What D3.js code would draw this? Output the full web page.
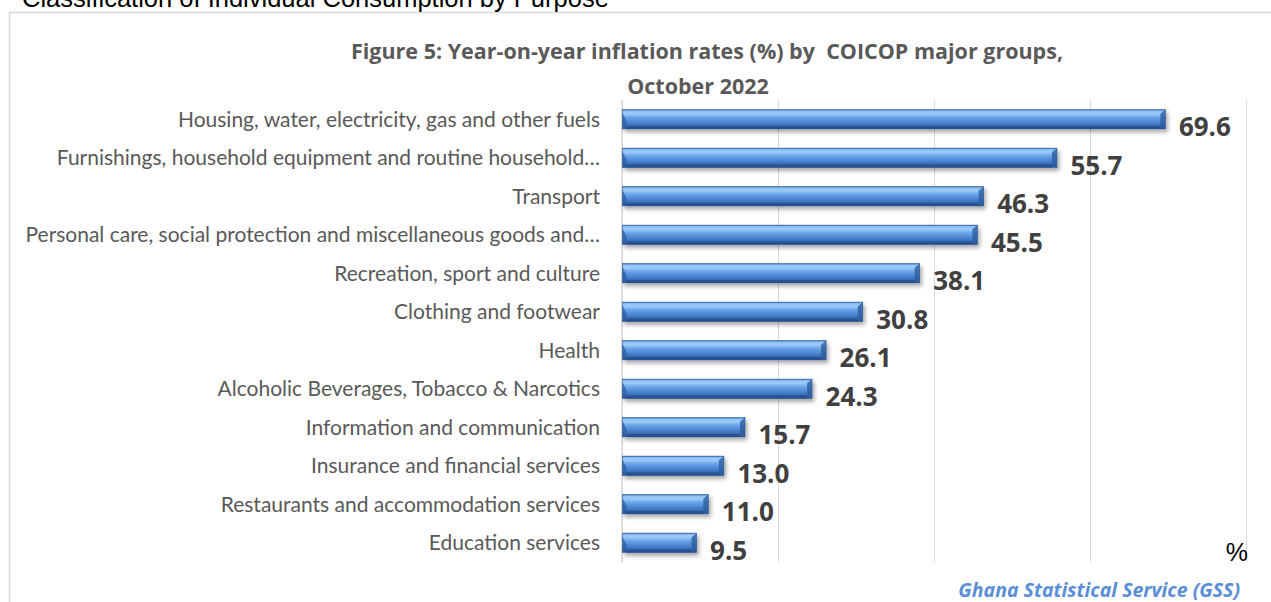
<!DOCTYPE html>
<html><head><meta charset="utf-8">
<script src="https://cdn.jsdelivr.net/npm/d3@7"></script>
<style>body{margin:0;background:#fff;overflow:hidden}svg{display:block}</style>
</head><body>
<svg id="c" width="1271" height="602"></svg>
<script>
const categories = [
  "Housing, water, electricity, gas and other fuels",
  "Furnishings, household equipment and routine household\u2026",
  "Transport",
  "Personal care, social protection and miscellaneous goods and\u2026",
  "Recreation, sport and culture",
  "Clothing and footwear",
  "Health",
  "Alcoholic Beverages, Tobacco & Narcotics",
  "Information and communication",
  "Insurance and financial services",
  "Restaurants and accommodation services",
  "Education services"
];
const values = [69.6, 55.7, 46.3, 45.5, 38.1, 30.8, 26.1, 24.3, 15.7, 13.0, 11.0, 9.5];
const xTicks = [0, 20, 40, 60, 80];
const titleLines = ["Figure 5: Year-on-year inflation rates (%) by  COICOP major groups,", "October 2022"];
const headerText = "Classification of Individual Consumption by Purpose";
const sourceText = "Ghana Statistical Service (GSS)";
const unitText = "%";

const svg = d3.select("#c");
const defs = svg.append("defs");
const g1 = defs.append("linearGradient").attr("id","barg").attr("x1",0).attr("y1",0).attr("x2",0).attr("y2",1);
[[0,"#3d74bd"],[0.08,"#8fc3f7"],[0.22,"#9ccbf8"],[0.4,"#6aa4e8"],[0.65,"#4b85d2"],[0.88,"#3566ae"],[1,"#234c88"]]
  .forEach(([o,c])=>g1.append("stop").attr("offset",o).attr("stop-color",c));
const f = defs.append("filter").attr("id","sh").attr("x","-5%").attr("y","-30%").attr("width","115%").attr("height","190%");
f.append("feDropShadow").attr("dx",2).attr("dy",3).attr("stdDeviation",2).attr("flood-color","#000").attr("flood-opacity",0.35);

// frame
svg.append("path").attr("d","M9.5,602 V12.5 H1271").attr("fill","none").attr("stroke","#d9d9d9").attr("stroke-width",1.5);

// header text (cut off at top, as in the source page)
svg.append("text").attr("x",22).attr("y",7).attr("font-family","Liberation Sans, Arial, sans-serif")
  .attr("font-size",25.5).attr("fill","#000").text(headerText);

// title
svg.append("g").selectAll("text").data(titleLines).join("text")
  .attr("x",(d,i)=> i===0 ? 707 : 698).attr("y",(d,i)=>59+i*35).attr("text-anchor","middle")
  .style("white-space","pre")
  .attr("font-family","Open Sans, sans-serif").attr("font-weight","bold").attr("font-size",21.5)
  .attr("fill","#595959").text(d=>d);

const x = d3.scaleLinear().domain([0,80]).range([622,1246]);
const y = d3.scaleBand().domain(categories).range([100,562]).paddingInner(0.5).paddingOuter(0.25);

// gridlines
svg.append("g").selectAll("line").data(xTicks).join("line")
  .attr("x1",d=>x(d)+0.5).attr("x2",d=>x(d)+0.5).attr("y1",100).attr("y2",562)
  .attr("stroke","#d9d9d9").attr("stroke-width",1);
svg.append("line").attr("x1",x(0)).attr("x2",x(0)).attr("y1",100).attr("y2",562).attr("stroke","#d9d9d9").attr("stroke-width",1.5);

// category labels
svg.append("g").selectAll("text").data(categories).join("text")
  .attr("x",600).attr("y",d=>y(d)+y.bandwidth()/2).attr("dy","0.35em").attr("text-anchor","end")
  .attr("font-family","Lato, sans-serif").attr("font-size",21).attr("fill","#595959").text(d=>d);

// bars
const bars = svg.append("g").selectAll("g").data(values).join("g").attr("filter","url(#sh)");
const bh = y.bandwidth();
bars.append("rect")
  .attr("x",x(0)+0.5).attr("y",(d,i)=>y(categories[i]))
  .attr("width",d=>x(d)-x(0)).attr("height",bh).attr("fill","url(#barg)")
  .attr("stroke","#2a5695").attr("stroke-width",0.6);
bars.append("path").attr("d",(d,i)=>{const t=y(categories[i]),x0=x(0)+0.5;return `M${x0},${t+3} L${x0+4},${t+bh/2+2} L${x0+4},${t+bh-3} L${x0},${t+bh} Z`;})
  .attr("fill","#2c5ea3").attr("opacity",0.75);
bars.append("path").attr("d",(d,i)=>{const t=y(categories[i]),xe=x(d)+0.5;return `M${xe},${t} L${xe-5},${t+4} L${xe-5},${t+bh-3} L${xe},${t+bh} Z`;})
  .attr("fill","#2d5c9e").attr("opacity",0.8);
bars.append("rect").attr("x",x(0)+4.5).attr("y",(d,i)=>y(categories[i])+bh-3).attr("width",d=>Math.max(0,x(d)-x(0)-9)).attr("height",3)
  .attr("fill","#244d8a").attr("opacity",0.7);

// value labels
svg.append("g").selectAll("text").data(values).join("text")
  .attr("x",d=>x(d)+14).attr("y",(d,i)=>y(categories[i])+bh/2+8).attr("dy","0.35em")
  .attr("font-family","Open Sans, sans-serif").attr("font-weight","bold").attr("font-size",26)
  .attr("fill","#404040").text(d=>d.toFixed(1));

// unit
svg.append("text").attr("x",1248).attr("y",561).attr("text-anchor","end").attr("font-family","Liberation Sans, Arial, sans-serif")
  .attr("font-size",25).attr("fill","#000").text(unitText);

// source
svg.append("text").attr("x",1240).attr("y",597).attr("text-anchor","end").attr("font-family","Open Sans, sans-serif")
  .attr("font-style","italic").attr("font-weight","bold").attr("font-size",19.5).attr("fill","#5a8ed6").text(sourceText);
</script>
</body></html>
